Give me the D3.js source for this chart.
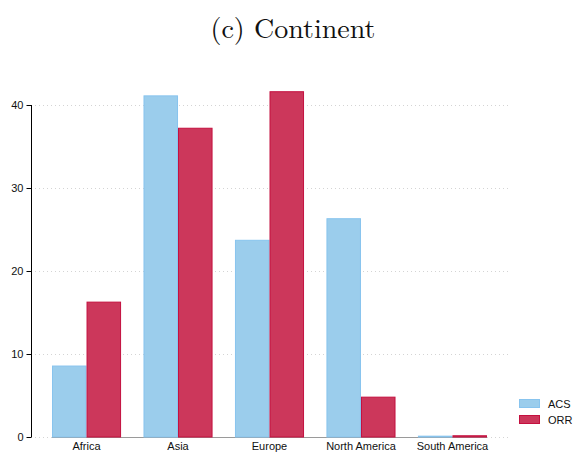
<!DOCTYPE html>
<html>
<head>
<meta charset="utf-8">
<script src="https://cdn.jsdelivr.net/npm/d3@7"></script>
<style>
  body { margin: 0; background: #fff; }
  svg { display: block; }
</style>
</head>
<body>
<svg id="chart" width="576" height="458"></svg>
<script>
// Share of people by continent of origin, two sources
const continents = ["Africa", "Asia", "Europe", "North America", "South America"];
const seriesNames = ["ACS", "ORR"];
const acsValues = [8.55, 41.1, 23.7, 26.3, 0.1];
const orrValues = [16.25, 37.2, 41.6, 4.8, 0.15];
const yTicks = [0, 10, 20, 30, 40];

const colors = {
  ACS: { fill: "#9bcdec", stroke: "#88c4ee" },
  ORR: { fill: "#cc375b", stroke: "#c4103f" }
};

const svg = d3.select("#chart");
const W = 576, H = 458;
const margin = { left: 31, right: 69, top: 105, bottom: 21 };
const plotRight = W - margin.right;
const plotBottom = H - margin.bottom;

const y = d3.scaleLinear().domain([0, 40]).range([plotBottom, margin.top]);

// Group bands span from the first bar's left edge to the last bar's right edge
const x0 = d3.scaleBand()
  .domain(continents)
  .range([52, 487])
  .paddingInner(0.245)
  .paddingOuter(0);

const x1 = d3.scaleBand().domain(seriesNames).range([0, x0.bandwidth()]).padding(0);

// Title
svg.append("text")
  .attr("x", 293).attr("y", 38)
  .attr("text-anchor", "middle")
  .attr("font-family", "'Latin Modern Roman', 'CMU Serif', 'DejaVu Serif', serif")
  .attr("font-size", 28)
  .attr("fill", "#111")
  .text("(c) Continent");

// Dotted horizontal grid
svg.append("g")
  .selectAll("line")
  .data(yTicks)
  .join("line")
  .attr("x1", margin.left).attr("x2", plotRight + 2)
  .attr("y1", d => Math.round(y(d)) + 0.5).attr("y2", d => Math.round(y(d)) + 0.5)
  .attr("stroke", "#d4d4d4")
  .attr("stroke-width", 1)
  .attr("stroke-dasharray", "1,3");

// Baseline beneath the bar groups
svg.append("line")
  .attr("x1", x0.range()[0]).attr("x2", x0.range()[1])
  .attr("y1", Math.round(y(0)) + 0.5).attr("y2", Math.round(y(0)) + 0.5)
  .attr("stroke", "#9a9a9a").attr("stroke-width", 1);

// Bars
const rows = continents.map((c, i) => ({ c, ACS: acsValues[i], ORR: orrValues[i] }));
const groups = svg.append("g")
  .selectAll("g")
  .data(rows)
  .join("g")
  .attr("transform", d => `translate(${x0(d.c)},0)`);

groups.selectAll("rect")
  .data(d => seriesNames.map(s => ({ s, v: d[s] })))
  .join("rect")
  .attr("x", d => x1(d.s) + 0.5)
  .attr("width", x1.bandwidth() - 1)
  .attr("y", d => y(d.v))
  .attr("height", d => Math.max(0, y(0) - y(d.v)))
  .attr("fill", d => colors[d.s].fill)
  .attr("stroke", d => colors[d.s].stroke)
  .attr("stroke-width", 1);

// Y axis
const yAxis = d3.axisLeft(y).tickValues(yTicks).tickSize(5).tickPadding(3);
const gy = svg.append("g")
  .attr("transform", `translate(${margin.left + 0.5},0)`)
  .call(yAxis);
gy.select(".domain").attr("stroke", "#000").attr("d", `M0,${y(40)}V${y(0)}`);
gy.selectAll(".tick line").attr("stroke", "#000");
gy.selectAll("text")
  .attr("font-family", "'Liberation Sans', Arial, sans-serif")
  .attr("font-size", 11)
  .attr("fill", "#111");

// X axis labels
const xAxis = d3.axisBottom(x0).tickSize(0).tickPadding(5);
const gx = svg.append("g")
  .attr("transform", `translate(0,${plotBottom})`)
  .call(xAxis);
gx.select(".domain").remove();
gx.selectAll("text")
  .attr("font-family", "'Liberation Sans', Arial, sans-serif")
  .attr("font-size", 11)
  .attr("fill", "#111");

// Legend
const legend = svg.append("g").attr("transform", "translate(519,399)");
const items = legend.selectAll("g")
  .data(seriesNames)
  .join("g")
  .attr("transform", (d, i) => `translate(0,${i * 16})`);
items.append("rect")
  .attr("x", 0.5).attr("y", 0.5)
  .attr("width", 20).attr("height", 8)
  .attr("fill", d => colors[d].fill)
  .attr("stroke", d => colors[d].stroke);
items.append("text")
  .attr("x", 29).attr("y", 8.5)
  .attr("font-family", "'Liberation Sans', Arial, sans-serif")
  .attr("font-size", 11)
  .attr("fill", "#111")
  .text(d => d);
</script>
</body>
</html>
